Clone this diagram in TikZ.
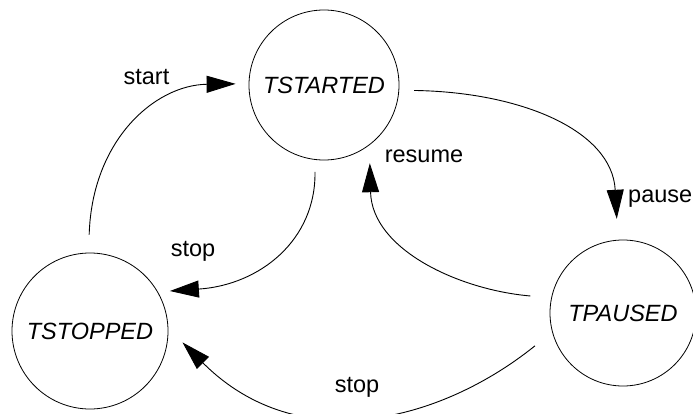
\documentclass[tikz,border=0pt]{standalone}
\usepackage{fontspec}
\setmainfont{Liberation Sans}
\usetikzlibrary{arrows.meta}

\begin{document}
\begin{tikzpicture}[x=1pt, y=-1pt,
  statenode/.style={circle, draw, line width=0.8pt, inner sep=0pt,
    font=\fontsize{23.5}{28}\selectfont\itshape},
  edgelabel/.style={font=\fontsize{23.5}{28}\selectfont, inner sep=0pt},
  trans/.style={line width=0.9pt,
    -{Triangle[length=29pt, width=17pt]}}]

  \useasboundingbox (0,0) rectangle (693,414);

  % states
  \node[statenode, minimum size=150pt] (started) at (324,85) {TSTARTED};
  \node[statenode, minimum size=156pt] (stopped) at (90,331) {TSTOPPED};
  \node[statenode, minimum size=146pt] (paused)  at (623,313) {TPAUSED};

  % start: TSTOPPED -> TSTARTED
  \draw[trans, shorten <=18pt, shorten >=13pt]
    (stopped.91) .. controls (92,140) and (155,85) .. (started.179);
  \node[edgelabel, anchor=base] (lstart) at (146.5,85) {start};

  % pause: TSTARTED -> TPAUSED
  \draw[trans, shorten <=15pt, shorten >=21pt]
    (started.-4) .. controls (520,92) and (612,130) .. (paused.94);
  \node[edgelabel, anchor=base west] (lpause) at (628,203) {pause};

  % resume: TPAUSED -> TSTARTED
  \draw[trans, shorten <=21pt, shorten >=18pt]
    (paused.168) .. controls (460,290) and (372,250) .. (started.-53);
  \node[edgelabel, anchor=base] (lresume) at (424,163) {resume};

  % stop: TSTARTED -> TSTOPPED
  \draw[trans, shorten <=12pt, shorten >=12pt]
    (started.-97) .. controls (316,240) and (260,285) .. (stopped.30);
  \node[edgelabel, anchor=base] (lstop1) at (193,256) {stop};

  % stop: TPAUSED -> TSTOPPED
  \draw[trans, shorten <=22pt, shorten >=20pt]
    (paused.-165) .. controls (443,420) and (300,460) .. (stopped.2);
  \node[edgelabel, anchor=base] (lstop2) at (357,392) {stop};
\end{tikzpicture}
\end{document}
